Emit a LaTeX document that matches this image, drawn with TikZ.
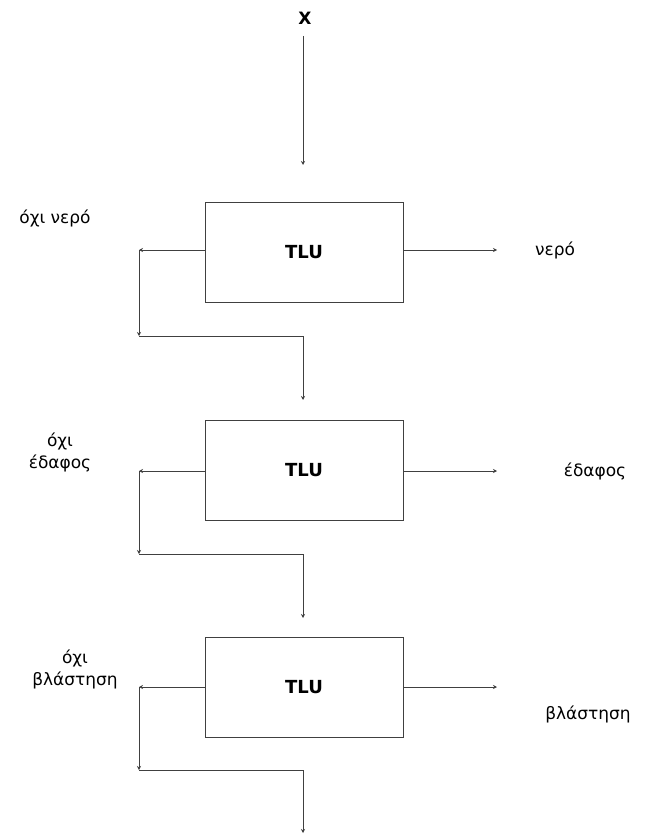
\documentclass[tikz,border=0pt]{standalone}
\usepackage{fontspec}
\setmainfont{DejaVu Sans}
\usetikzlibrary{arrows.meta}
\begin{document}
\begin{tikzpicture}[x=1pt,y=-1pt,>={Stealth[length=4pt,width=4pt]},
  line width=0.8pt,
  tlubox/.style={draw=black!75, minimum width=198pt, minimum height=100pt, font=\fontsize{18}{22}\selectfont\bfseries},
  lbl/.style={font=\fontsize{17}{22}\selectfont, align=center, inner sep=0pt}]
  \useasboundingbox (0,0) rectangle (648,837);

  % input
  \node[font=\fontsize{17}{20}\selectfont\bfseries] (x) at (305,18) {X};
  \coordinate (in1) at (303,165);
  \draw[->, black!75] (x.south -| in1) ++(0,8) -- (in1);

  % first TLU
  \node[tlubox] (tlu1) at (304,252) {TLU};
  \coordinate (no1) at (139,250);
  \coordinate (yes1) at (497,250);
  \coordinate (dn1) at (139,336);
  \coordinate (in2) at (303,400);
  \draw[->, black!75] (tlu1.west |- no1) -- (no1);
  \draw[->, black!75] (tlu1.east |- yes1) -- (yes1);
  \draw[->, black!75] (no1) -- (dn1);
  \draw[->, black!75] (dn1) -| (in2);
  \node[lbl] (lno1) at (55,218) {όχι νερό};
  \node[lbl] (lyes1) at (555,250) {νερό};

  % second TLU
  \node[tlubox] (tlu2) at (304,470) {TLU};
  \coordinate (no2) at (139,471);
  \coordinate (yes2) at (497,471);
  \coordinate (dn2) at (139,554);
  \coordinate (in3) at (303,618);
  \draw[->, black!75] (tlu2.west |- no2) -- (no2);
  \draw[->, black!75] (tlu2.east |- yes2) -- (yes2);
  \draw[->, black!75] (no2) -- (dn2);
  \draw[->, black!75] (dn2) -| (in3);
  \node[lbl] (lno2) at (60,452) {όχι\\έδαφος};
  \node[lbl] (lyes2) at (595,471) {έδαφος};

  % third TLU
  \node[tlubox] (tlu3) at (304,687) {TLU};
  \coordinate (no3) at (139,687);
  \coordinate (yes3) at (497,687);
  \coordinate (dn3) at (139,770);
  \coordinate (out) at (303,833);
  \draw[->, black!75] (tlu3.west |- no3) -- (no3);
  \draw[->, black!75] (tlu3.east |- yes3) -- (yes3);
  \draw[->, black!75] (no3) -- (dn3);
  \draw[->, black!75] (dn3) -| (out);
  \node[lbl] (lno3) at (75,669) {όχι\\βλάστηση};
  \node[lbl] (lyes3) at (588,714) {βλάστηση};
\end{tikzpicture}
\end{document}
